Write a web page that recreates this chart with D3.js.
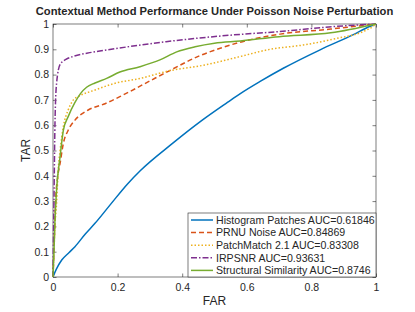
<!DOCTYPE html>
<html>
<head>
<meta charset="utf-8">
<script src="https://cdn.jsdelivr.net/npm/d3@7"></script>
<style>
  html, body { margin: 0; padding: 0; background: #fff; overflow: hidden; }
  svg { display: block; }
  text { font-family: "Liberation Sans", Arial, sans-serif; fill: #262626; }
  .axis path { display: none; }
  .axis line { stroke: #262626; stroke-width: 0.6; }
  .axis text { font-size: 10.5px; }
</style>
</head>
<body>
<svg id="roc" width="415" height="312"></svg>
<script>
// ROC curves, [FAR, TAR]
const histogramPatches = [[0,0],[0.01,0.03],[0.027,0.067],[0.05,0.097],[0.068,0.12],[0.1,0.17],[0.13,0.212],
  [0.18,0.29],[0.23,0.367],[0.27,0.42],[0.37,0.528],[0.46,0.618],[0.54,0.69],[0.58,0.725],[0.64,0.772],
  [0.713,0.825],[0.827,0.898],[0.93,0.958],[0.98,0.99],[1,1]];
const prnuNoise = [[0,0],[0.004,0.15],[0.008,0.3],[0.015,0.4],[0.022,0.45],[0.032,0.528],[0.047,0.58],
  [0.068,0.62],[0.109,0.66],[0.161,0.685],[0.218,0.72],[0.3,0.775],[0.36,0.815],[0.455,0.875],
  [0.52,0.905],[0.579,0.928],[0.703,0.96],[0.86,0.98],[1,1]];
const patchMatch = [[0,0],[0.003,0.1],[0.006,0.2],[0.011,0.29],[0.016,0.42],[0.022,0.5],[0.032,0.594],
  [0.047,0.66],[0.063,0.70],[0.078,0.713],[0.13,0.739],[0.19,0.765],[0.27,0.785],[0.36,0.815],
  [0.47,0.838],[0.575,0.87],[0.672,0.9],[0.775,0.917],[0.878,0.943],[0.96,0.97],[0.99,0.99],[1,1]];
const irpsnr = [[0,0],[0.003,0.3],[0.006,0.6],[0.011,0.765],[0.022,0.84],[0.04,0.86],[0.058,0.87],
  [0.12,0.888],[0.19,0.902],[0.35,0.93],[0.55,0.956],[0.7,0.97],[0.87,0.99],[1,1]];
const structSim = [[0,0],[0.003,0.1],[0.006,0.22],[0.011,0.344],[0.022,0.476],[0.032,0.58],[0.047,0.634],
  [0.068,0.69],[0.085,0.725],[0.104,0.75],[0.13,0.767],[0.166,0.785],[0.207,0.81],[0.269,0.831],
  [0.331,0.858],[0.383,0.89],[0.44,0.91],[0.5,0.924],[0.58,0.933],[0.7,0.95],[0.86,0.965],[1,1]];

const seriesNames = ["Histogram Patches AUC=0.61846", "PRNU Noise AUC=0.84869", "PatchMatch 2.1 AUC=0.83308",
  "IRPSNR AUC=0.93631", "Structural Similarity AUC=0.8746"];
const seriesData = [histogramPatches, prnuNoise, patchMatch, irpsnr, structSim];
const colors = ["#0072BD", "#D95319", "#EDB120", "#7E2F8E", "#77AC30"];
const dashes = [null, "5,3", "1.5,2", "6,2,1.5,2", null];
const xTicks = [0, 0.2, 0.4, 0.6, 0.8, 1];
const yTicks = [0, 0.1, 0.2, 0.3, 0.4, 0.5, 0.6, 0.7, 0.8, 0.9, 1];

const svg = d3.select('#roc');
const margin = {top: 24, right: 39, bottom: 35, left: 53};
const innerWidth = +svg.attr('width') - margin.left - margin.right;
const innerHeight = +svg.attr('height') - margin.top - margin.bottom;

const xScale = d3.scaleLinear().domain([0, 1]).range([0, innerWidth]);
const yScale = d3.scaleLinear().domain([0, 1]).range([innerHeight, 0]);

const g = svg.append('g')
  .attr('transform', `translate(${margin.left},${margin.top})`);

const fmt = d => d === 0 || d === 1 ? d3.format('d')(d) : d3.format('.1f')(d);
const noLabels = sel => sel.selectAll('text').remove();

g.append('g').attr('class', 'axis')
  .attr('transform', `translate(0,${innerHeight})`)
  .call(d3.axisBottom(xScale).tickValues(xTicks).tickFormat(fmt).tickSize(-3.5).tickPadding(7));
g.append('g').attr('class', 'axis')
  .call(d3.axisTop(xScale).tickValues(xTicks).tickSize(-3.5))
  .call(noLabels);
g.append('g').attr('class', 'axis')
  .call(d3.axisLeft(yScale).tickValues(yTicks).tickFormat(fmt).tickSize(-3.5).tickPadding(4));
g.append('g').attr('class', 'axis')
  .attr('transform', `translate(${innerWidth},0)`)
  .call(d3.axisRight(yScale).tickValues(yTicks).tickSize(-3.5))
  .call(noLabels);

g.append('rect')
  .attr('width', innerWidth).attr('height', innerHeight)
  .attr('fill', 'none').attr('stroke', '#262626').attr('stroke-width', 0.6);

const line = d3.line().curve(d3.curveMonotoneX)
  .x(d => xScale(d[0])).y(d => yScale(d[1]));

g.selectAll('path.roc').data(seriesData)
  .enter().append('path')
    .attr('class', 'roc')
    .attr('d', line)
    .attr('fill', 'none')
    .attr('stroke', (d, i) => colors[i])
    .attr('stroke-width', 1.5)
    .attr('stroke-dasharray', (d, i) => dashes[i]);

// legend, bottom right inside the axes
const legendW = 188, legendH = 64, rowH = 12.6;
const legend = g.append('g')
  .attr('transform', `translate(${innerWidth - legendW},${innerHeight - legendH})`);
legend.append('rect')
  .attr('width', legendW).attr('height', legendH)
  .attr('fill', '#fff').attr('stroke', '#262626').attr('stroke-width', 0.6);
const items = legend.selectAll('g.item').data(seriesNames)
  .enter().append('g')
    .attr('class', 'item')
    .attr('transform', (d, i) => `translate(0,${7 + i * rowH})`);
items.append('line')
  .attr('x1', 3).attr('x2', 25)
  .attr('stroke', (d, i) => colors[i])
  .attr('stroke-width', 1.5)
  .attr('stroke-dasharray', (d, i) => dashes[i]);
items.append('text')
  .attr('x', 28).attr('dy', '0.35em')
  .attr('font-size', '10.6px')
  .text(d => d);

g.append('text')
  .attr('x', innerWidth / 2).attr('y', -9)
  .attr('text-anchor', 'middle')
  .attr('font-size', '11.2px').attr('font-weight', 'bold')
  .attr('fill', '#000')
  .text('Contextual Method Performance Under Poisson Noise Perturbation');

g.append('text')
  .attr('x', innerWidth / 2).attr('y', innerHeight + 28)
  .attr('text-anchor', 'middle')
  .attr('font-size', '12px')
  .text('FAR');

g.append('text')
  .attr('transform', `translate(-23,${innerHeight / 2}) rotate(-90)`)
  .attr('text-anchor', 'middle')
  .attr('font-size', '12px')
  .text('TAR');
</script>
</body>
</html>
